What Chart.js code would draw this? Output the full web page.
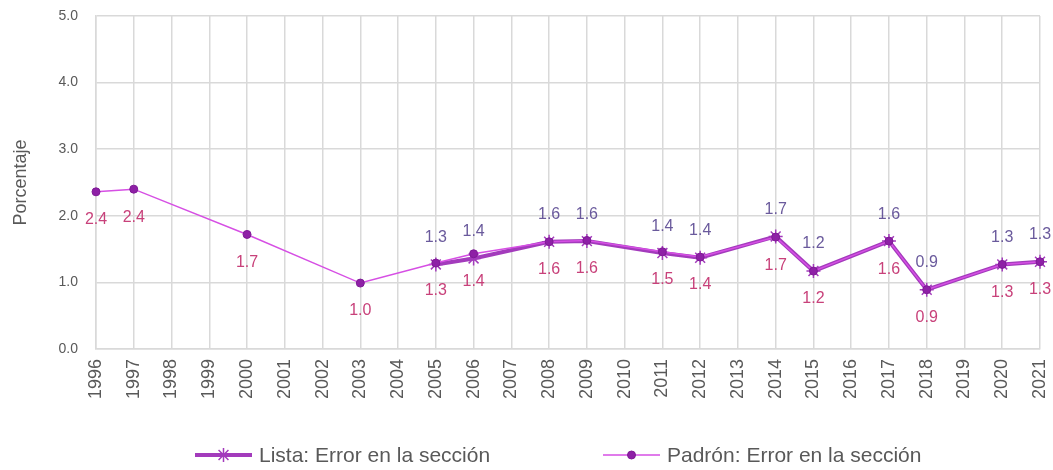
<!DOCTYPE html>
<html>
<head>
<meta charset="utf-8">
<script src="https://cdn.jsdelivr.net/npm/chart.js@4/dist/chart.umd.min.js"></script>
<style>
  html, body { margin: 0; padding: 0; background: #ffffff; }
  #wrap { width: 1053px; height: 470px; }
</style>
</head>
<body>
<div id="wrap"><canvas id="c" width="1053" height="470"></canvas></div>
<script>
const years = ['1996','1997','1998','1999','2000','2001','2002','2003','2004','2005','2006','2007','2008','2009','2010','2011','2012','2013','2014','2015','2016','2017','2018','2019','2020','2021'];
const listaValues = [null,null,null,null,null,null,null,null,null,1.27,1.36,null,1.61,1.62,null,1.44,1.37,null,1.69,1.17,null,1.62,0.89,null,1.27,1.31];
const padronValues = [2.36,2.40,null,null,1.72,null,null,0.99,null,1.29,1.43,null,1.61,1.63,null,1.46,1.38,null,1.68,1.17,null,1.62,0.89,null,1.27,1.31];
const yTicks = [0,1,2,3,4,5];
const seriesNames = ['Lista: Error en la sección', 'Padrón: Error en la sección'];

const FONT = "'Liberation Sans', Arial, sans-serif";
const TEXT = '#595959';
const GRID = '#d9d9d9';

const dataLabels = {
  id: 'dataLabels',
  afterDatasetsDraw(chart) {
    const ctx = chart.ctx;
    ctx.save();
    ctx.font = '16px ' + FONT;
    ctx.textAlign = 'center';
    ctx.textBaseline = 'middle';
    chart.data.datasets.forEach((ds, i) => {
      const meta = chart.getDatasetMeta(i);
      meta.data.forEach((pt, j) => {
        const v = ds.data[j];
        if (v === null || v === undefined) return;
        ctx.fillStyle = ds.labelColor;
        ctx.fillText(v.toFixed(1), pt.x, pt.y + ds.labelOffset);
      });
    });
    ctx.restore();
  }
};

const customLegend = {
  id: 'customLegend',
  afterDraw(chart) {
    const ctx = chart.ctx;
    const y = 455;
    const starts = [195, 603];
    ctx.save();
    chart.data.datasets.forEach((ds, i) => {
      const x0 = starts[i];
      const x1 = x0 + 57;
      ctx.strokeStyle = ds.borderColor;
      ctx.lineWidth = ds.borderWidth;
      ctx.beginPath();
      ctx.moveTo(x0, y);
      ctx.lineTo(x1, y);
      ctx.stroke();
      const cx = (x0 + x1) / 2;
      ctx.fillStyle = ds.pointBackgroundColor;
      ctx.strokeStyle = ds.pointBorderColor;
      ctx.lineWidth = ds.pointBorderWidth;
      Chart.helpers.drawPoint(ctx, { pointStyle: ds.pointStyle, radius: ds.pointRadius, rotation: 0, borderWidth: ds.pointBorderWidth }, cx, y);
      ctx.fillStyle = TEXT;
      ctx.font = '21px ' + FONT;
      ctx.textAlign = 'left';
      ctx.textBaseline = 'middle';
      ctx.fillText(ds.label, x1 + 7, y + 1);
    });
    ctx.restore();
  }
};

function noPad(scale) {
  scale.paddingTop = 0;
  scale.paddingBottom = 0;
  scale.paddingLeft = 0;
  scale.paddingRight = 0;
}

new Chart(document.getElementById('c'), {
  type: 'line',
  data: {
    labels: years,
    datasets: [
      {
        label: seriesNames[0],
        data: listaValues,
        borderColor: '#a33bbc',
        borderWidth: 4,
        pointStyle: 'star',
        pointRadius: 7,
        pointBorderWidth: 1.5,
        pointBorderColor: '#a33bbc',
        pointBackgroundColor: '#a33bbc',
        spanGaps: true,
        tension: 0,
        order: 1,
        labelColor: '#6a5a9c',
        labelOffset: -27
      },
      {
        label: seriesNames[1],
        data: padronValues,
        borderColor: '#d64fe4',
        borderWidth: 1.5,
        pointStyle: 'circle',
        pointRadius: 4,
        pointBorderWidth: 1,
        pointBorderColor: '#7f1a96',
        pointBackgroundColor: '#8e20a6',
        spanGaps: true,
        tension: 0,
        order: 0,
        labelColor: '#c8417a',
        labelOffset: 28
      }
    ]
  },
  options: {
    responsive: false,
    animation: false,
    layout: { padding: { top: 16, right: 13, bottom: 51, left: 0 } },
    plugins: {
      legend: { display: false },
      tooltip: { enabled: false }
    },
    scales: {
      x: {
        offset: false,
        grid: { color: GRID, lineWidth: 1.5, drawTicks: false },
        border: { color: GRID, width: 1.5 },
        ticks: {
          autoSkip: false,
          minRotation: 90,
          maxRotation: 90,
          padding: 10,
          color: TEXT,
          font: { family: FONT, size: 18 }
        },
        afterFit(scale) { scale.height = 70; noPad(scale); }
      },
      y: {
        min: 0,
        max: 5,
        afterBuildTicks(scale) { scale.ticks = yTicks.map(v => ({ value: v })); },
        grid: { color: GRID, lineWidth: 1.5, drawTicks: false },
        border: { color: GRID, width: 1.5 },
        ticks: {
          padding: 18,
          color: TEXT,
          font: { family: FONT, size: 14 },
          callback: v => Number(v).toFixed(1)
        },
        title: {
          display: true,
          text: 'Porcentaje',
          color: TEXT,
          font: { family: FONT, size: 18 },
          padding: { top: 10, bottom: 0 }
        },
        afterFit(scale) { scale.width = 96; noPad(scale); }
      }
    }
  },
  plugins: [dataLabels, customLegend]
});
</script>
</body>
</html>
